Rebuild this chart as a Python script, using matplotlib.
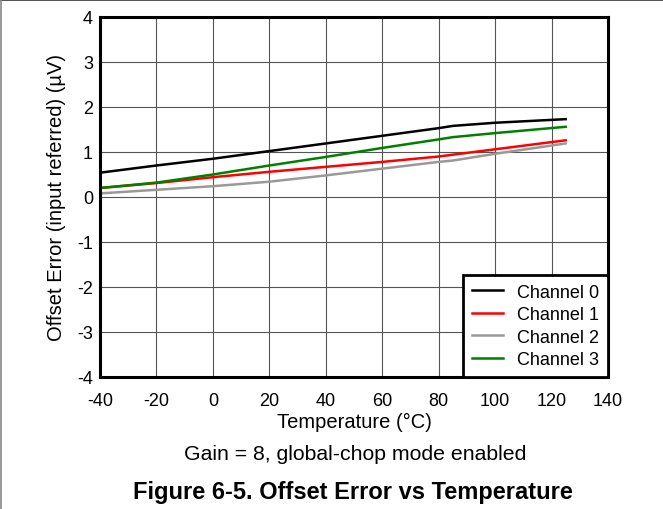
import numpy as np
import matplotlib.pyplot as plt
from matplotlib.lines import Line2D

plt.rcParams['font.family'] = ['Liberation Sans', 'DejaVu Sans']
plt.rcParams['axes.unicode_minus'] = False

temp = [-40, -20, 0, 20, 40, 60, 80, 85, 100, 125]
ch0 = [0.54, 0.70, 0.85, 1.02, 1.19, 1.36, 1.53, 1.58, 1.65, 1.73]
ch1 = [0.20, 0.31, 0.44, 0.56, 0.67, 0.78, 0.90, 0.94, 1.06, 1.26]
ch2 = [0.08, 0.16, 0.24, 0.34, 0.48, 0.63, 0.78, 0.81, 0.96, 1.19]
ch3 = [0.20, 0.32, 0.50, 0.70, 0.89, 1.09, 1.28, 1.33, 1.42, 1.56]

names = ['Channel 0', 'Channel 1', 'Channel 2', 'Channel 3']
colors = ['#000000', '#ff0000', '#999999', '#008000']

fig = plt.figure(figsize=(6.63, 5.1), dpi=100)
ax = fig.add_axes([100/663, 1-378/510, 508/663, 360/510])

for y, lab, c in zip([ch0, ch1, ch2, ch3], names, colors):
    ax.plot(temp, y, color=c, lw=1.8, label=lab)

ax.set_xlim(-40, 140)
ax.set_ylim(-4, 4)
ax.set_xticks(np.arange(-40, 141, 20))
ax.set_yticks(np.arange(-4, 5, 1))
ax.grid(True, color='#555555', lw=0.8)
ax.set_axisbelow(True)
ax.tick_params(length=0, labelsize=13)
ax.tick_params(axis='x', pad=11)
ax.tick_params(axis='y', pad=5)
for s in ax.spines.values():
    s.set_linewidth(2.2)

ax.set_xlabel('Temperature (°C)', fontsize=14.5, labelpad=2)
ax.set_ylabel('Offset Error (input referred) (µV)', fontsize=14.5, labelpad=8)

leg = ax.legend(loc='lower right', fontsize=13, frameon=True, fancybox=False,
                borderaxespad=0, handlelength=1.75, handletextpad=0.75,
                labelspacing=0.3, borderpad=0.5, edgecolor='black',
                framealpha=1)
leg.get_frame().set_linewidth(2)

fig.text(355/663, 1-455/510, 'Gain = 8, global-chop mode enabled',
         ha='center', va='center', fontsize=15.3)
fig.text(353/663, 1-493/510, 'Figure 6-5. Offset Error vs Temperature',
         ha='center', va='center', fontsize=17, fontweight='bold')

# page border lines
fig.add_artist(Line2D([0, 1], [0.998, 0.998], transform=fig.transFigure, color='#333333', lw=1.2))
fig.add_artist(Line2D([0.001, 0.001], [0, 1], transform=fig.transFigure, color='#888888', lw=1.2))

fig.savefig('out.png', dpi=100)
